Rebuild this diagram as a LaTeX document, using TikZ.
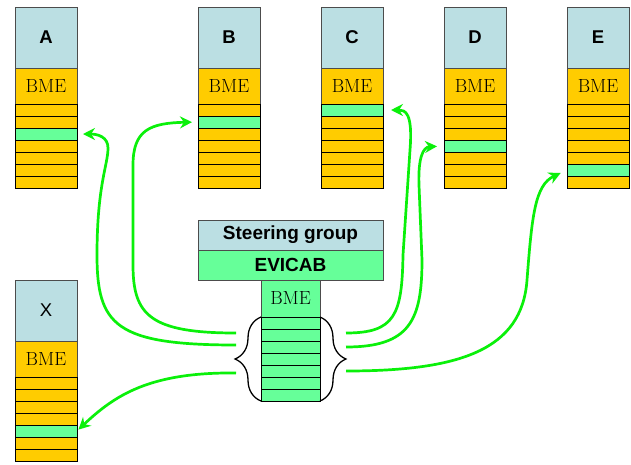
\documentclass[tikz,border=0pt]{standalone}
\usepackage{fontspec}
\newfontfamily\arialfont{Liberation Sans}
\usetikzlibrary{positioning,arrows.meta,decorations.pathreplacing}
\definecolor{headblue}{RGB}{187,223,227}
\definecolor{bmeorange}{RGB}{255,204,0}
\definecolor{rowgreen}{RGB}{102,255,153}
\definecolor{linkgreen}{RGB}{10,240,10}

\begin{document}
\begin{tikzpicture}[>={Stealth[length=12pt,width=12pt,inset=4pt]}, x=1pt, y=-1pt,
  box/.style={draw=black!70, line width=0.8pt, inner sep=0pt, outer sep=0pt, minimum width=62pt},
  headbf/.style={box, fill=headblue, minimum height=61pt, font=\arialfont\bfseries\fontsize{18.5}{18.5}\selectfont},
  headrg/.style={box, fill=headblue, minimum height=61pt, font=\arialfont\fontsize{18.5}{18.5}\selectfont},
  bmebox/.style={box, minimum height=36pt, font=\fontsize{19}{19}\selectfont},
  rowbox/.style={draw=black, line width=0.8pt, inner sep=0pt, outer sep=0pt, minimum width=62pt, minimum height=12pt},
  curly/.style={draw, line width=1.3pt, decorate, decoration={brace, amplitude=26pt}},
  link/.style={->, linkgreen, line width=2.7pt}]
            \fill[white] (0,0) rectangle (631,464);
            \useasboundingbox (0,0) rectangle (631,464);
            % member columns
            \foreach \n/\x/\y/\g/\s in {A/15/7/3/headbf, B/198/7/2/headbf, C/321/7/1/headbf, D/444/7/4/headbf, E/567/7/6/headbf, X/15/280/5/headrg}{
              \node[\s, anchor=north west] (\n-head) at (\x,\y) {\n};
              \node[bmebox, fill=bmeorange, below=0pt of \n-head] (\n-0) {BME};
              \foreach \i in {1,...,7}{
                \pgfmathtruncatemacro\j{\i-1}
                \ifnum\i=\g \def\rowfill{rowgreen}\else\def\rowfill{bmeorange}\fi
                \node[rowbox, fill=\rowfill, below=0pt of \n-\j] (\n-\i) {};
              }
            }
            % EVICAB column
            \node[box, fill=headblue, minimum width=185pt, minimum height=30pt, anchor=north west, font=\arialfont\bfseries\fontsize{19}{19}\selectfont] (steer) at (198,220) {Steering group};
            \node[box, fill=rowgreen, minimum width=185pt, minimum height=30pt, below=0pt of steer, font=\arialfont\bfseries\fontsize{19}{19}\selectfont] (evicab) {EVICAB};
            \node[bmebox, fill=rowgreen, minimum width=59pt, minimum height=37pt, below=0pt of evicab] (ev-0) {BME};
            \foreach \i in {1,...,7}{
              \pgfmathtruncatemacro\j{\i-1}
              \node[rowbox, fill=rowgreen, minimum width=59pt, below=0pt of ev-\j] (ev-\i) {};
            }
            \draw[curly] (ev-7.south west) -- (ev-1.north west);
            \draw[curly] (ev-1.north east) -- (ev-7.south east);
            \coordinate (l1) at (236,333);
            \coordinate (l2) at (236,345);
            \coordinate (l3) at (236,373);
            \coordinate (r1) at (346,333);
            \coordinate (r2) at (346,347);
            \coordinate (r3) at (346,371);
            % links
            \draw[link, shorten >=6pt] (l2) .. controls (115,345) and (97,325) .. (97,255) .. controls (97,185) and (108,165) .. (108,148) .. controls (108,137) and (98,134) .. (A-3.east);
            \draw[link, shorten >=6pt] (l1) .. controls (150,333) and (133,315) .. (133,265) -- (133,165) .. controls (133,130) and (150,123) .. (B-2.west);
            \draw[link, shorten >=2pt] (l3) .. controls (150,372) and (115,395) .. (X-5.east);
            \draw[link, shorten >=8pt] (r1) .. controls (395,333) and (402,315) .. (403,255) -- (410,150) .. controls (413,112) and (405,110) .. (C-1.east);
            \draw[link, shorten >=7pt] (r2) .. controls (410,347) and (422,320) .. (422,260) -- (419,185) .. controls (418,158) and (423,147) .. (D-4.west);
            \draw[link, shorten >=7pt] (r3) .. controls (460,371) and (522,350) .. (527,280) .. controls (532,215) and (535,185) .. (E-6.west);
        \end{tikzpicture}
\end{document}
